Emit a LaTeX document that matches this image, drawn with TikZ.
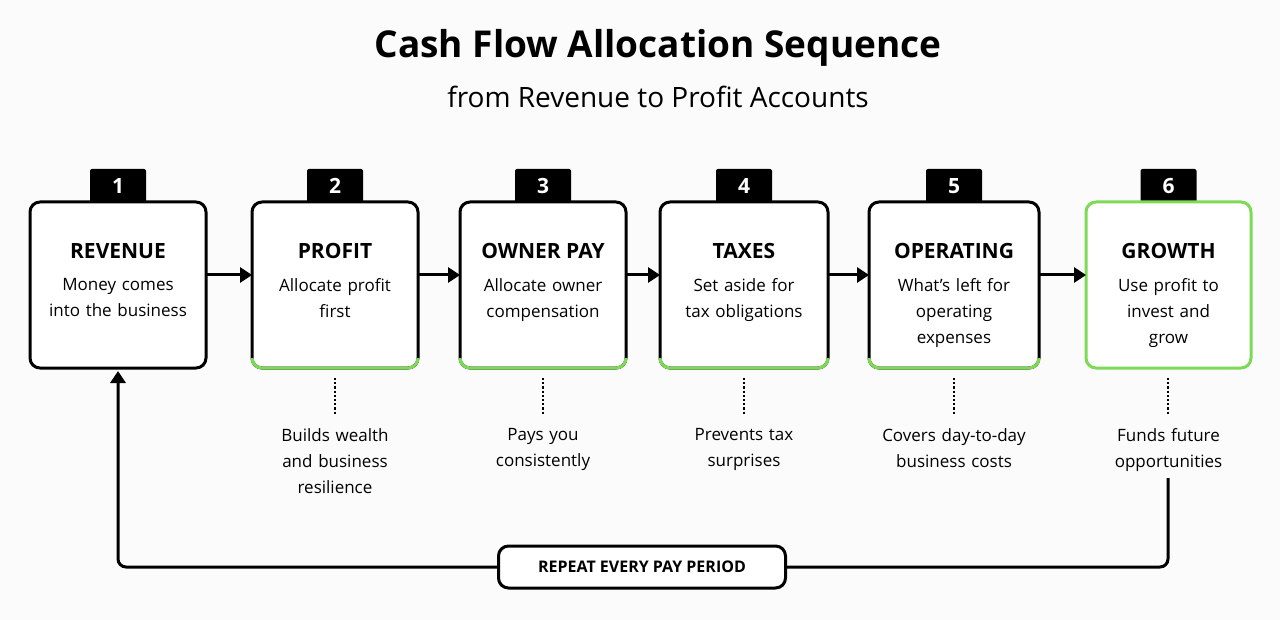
\documentclass[tikz,border=0pt]{standalone}
\usepackage{fontspec}
\setmainfont{Open Sans}
\usetikzlibrary{arrows.meta}
\definecolor{grn}{HTML}{7ED957}
\begin{document}
\begin{tikzpicture}[x=1pt,y=-1pt,
  box/.style={draw=black,line width=3pt,rounded corners=10pt},
  tab/.style={fill=black,rounded corners=2pt,minimum width=56pt,minimum height=34pt,text=white,font=\fontsize{21}{21}\selectfont\bfseries,inner sep=0},
  ttl/.style={font=\fontsize{21}{21}\selectfont\bfseries},
  body/.style={font=\fontsize{17}{26}\selectfont,align=center,text width=170pt},
  arr/.style={line width=3pt,-{Triangle[length=12pt,width=15pt]}},
  dot/.style={line width=2.2pt,dotted}]
\fill[white!97!gray] (0,0) rectangle (1280,620);
\node[font=\fontsize{37}{37}\selectfont\bfseries] at (658,48) {Cash Flow Allocation Sequence};
\node[font=\fontsize{28}{28}\selectfont] at (658,97) {from Revenue to Profit Accounts};
\foreach \i/\l/\r/\n/\t/\b/\c in {
 1/30/206/1/REVENUE/{Money comes\\into the business}/,
 2/252/418/2/PROFIT/{Allocate profit\\first}/{Builds wealth\\and business\\resilience},
 3/460/626/3/OWNER PAY/{Allocate owner\\compensation}/{Pays you\\consistently},
 4/660/828/4/TAXES/{Set aside for\\tax obligations}/{Prevents tax\\surprises},
 5/869/1039/5/OPERATING/{What’s left for\\operating\\expenses}/{Covers day-to-day\\business costs},
 6/1086/1251/6/GROWTH/{Use profit to\\invest and\\grow}/{Funds future\\opportunities}}{
  \pgfmathsetmacro\cx{(\l+\r)/2}
  \node[tab] (t\i) at (\cx,186) {\n};
  \fill[white,rounded corners=10pt] (\l,202) rectangle (\r,368);
  \node[ttl] at (\cx,251) {\t};
  \node[body,anchor=north] at (\cx,275) {\b};
  \node[body,anchor=north] (c\i) at (\cx,425) {\c};
}
\draw[box] (30,202) rectangle (206,368);
\draw[box,draw=grn] (1086,202) rectangle (1251,368);
\foreach \l/\r in {252/418,460/626,660/828,869/1039}{
  \draw[box] (\l,202) rectangle (\r,368);
  \begin{scope}
  \clip (\l-3,358) rectangle (\r+3,372);
  \draw[grn,line width=3pt,rounded corners=10pt] (\l,340) -- (\l,368) -- (\r,368) -- (\r,340);
  \end{scope}
}
\coordinate (r1) at (206,275); \coordinate (l2) at (252,275);
\coordinate (r2) at (418,275); \coordinate (l3) at (460,275);
\coordinate (r3) at (626,275); \coordinate (l4) at (660,275);
\coordinate (r4) at (828,275); \coordinate (l5) at (869,275);
\coordinate (r5) at (1039,275); \coordinate (l6) at (1086,275);
\draw[arr] (r1) -- (l2); \draw[arr] (r2) -- (l3); \draw[arr] (r3) -- (l4);
\draw[arr] (r4) -- (l5); \draw[arr] (r5) -- (l6);
\foreach \x in {335,543,744,954,1168}{\draw[dot] (\x,378) -- (\x,414);}
\node[draw,line width=3pt,rounded corners=10pt,fill=white,minimum width=287pt,minimum height=42pt,font=\fontsize{16}{16}\selectfont\bfseries] (rep) at (642,567) {REPEAT EVERY PAY PERIOD};
\coordinate (s) at (1168,478); \coordinate (e) at (118,371);
\draw[line width=3pt,rounded corners=8pt] (s) -- (1168,567) -- (rep.east);
\draw[arr,rounded corners=8pt] (rep.west) -- (118,567) -- (e);
\end{tikzpicture}
\end{document}
